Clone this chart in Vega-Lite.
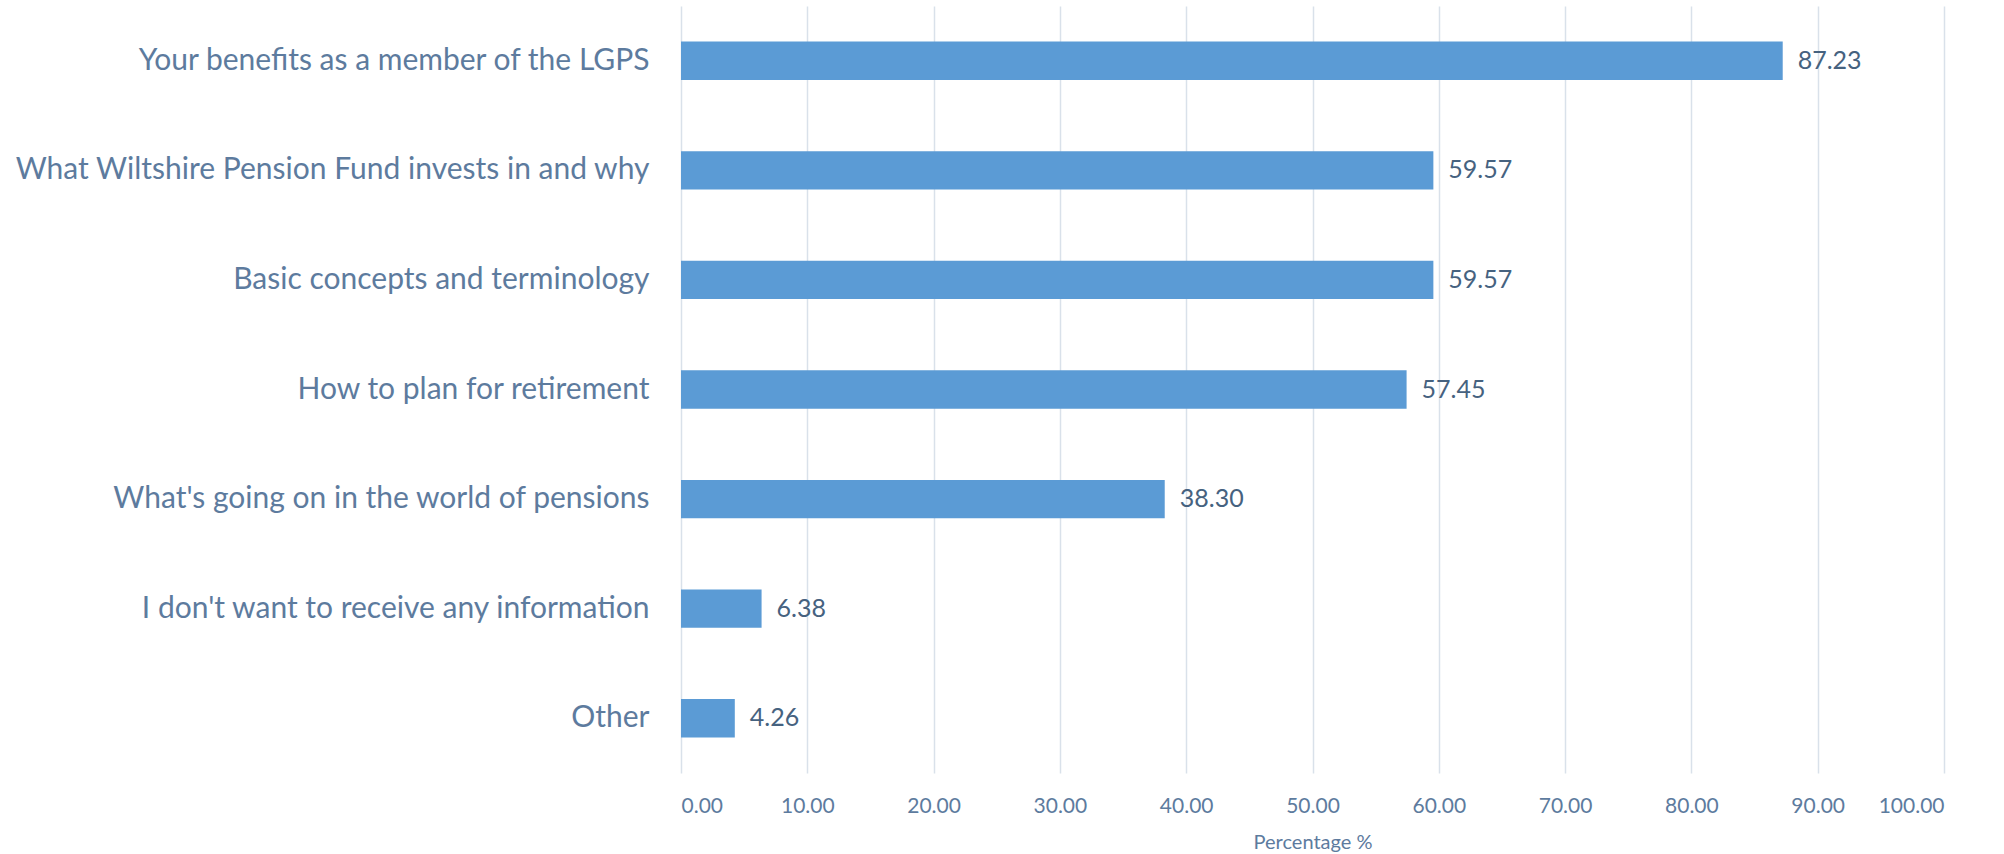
{
  "$schema": "https://vega.github.io/schema/vega-lite/v6.json",
  "width": 1263,
  "height": 767,
  "autosize": {"type": "none"},
  "padding": {"left": 681, "top": 6, "right": 60, "bottom": 81},
  "background": "white",
  "config": {"view": {"stroke": null}, "font": "Lato"},
  "data": {
    "values": [
      {"category": "Your benefits as a member of the LGPS", "pct": 87.23},
      {"category": "What Wiltshire Pension Fund invests in and why", "pct": 59.57},
      {"category": "Basic concepts and terminology", "pct": 59.57},
      {"category": "How to plan for retirement", "pct": 57.45},
      {"category": "What's going on in the world of pensions", "pct": 38.30},
      {"category": "I don't want to receive any information ", "pct": 6.38},
      {"category": "Other ", "pct": 4.26}
    ]
  },
  "encoding": {
    "y": {
      "field": "category",
      "type": "nominal",
      "sort": null,
      "scale": {"paddingInner": 0.65, "paddingOuter": 0.325},
      "axis": {
        "title": null,
        "domain": false,
        "ticks": false,
        "labelPadding": 32,
        "labelFontSize": 30,
        "labelColor": "#5d7b9e",
        "labelLimit": 0,
        "encode": {
          "labels": {
            "update": {
              "dx": [
                {"test": "indexof(datum.value, 'Other') >= 0 || indexof(datum.value, 'receive') >= 0", "value": -7},
                {"value": 0}
              ]
            }
          }
        }
      }
    },
    "x": {
      "field": "pct",
      "type": "quantitative",
      "scale": {"domain": [0, 100], "nice": false},
      "axis": {
        "title": "Percentage %",
        "titleFontSize": 20,
        "titleFontWeight": "normal",
        "titleColor": "#5d7b9e",
        "titlePadding": 16,
        "values": [0, 10, 20, 30, 40, 50, 60, 70, 80, 90, 100],
        "format": ".2f",
        "domain": false,
        "ticks": false,
        "labelPadding": 22,
        "labelFontSize": 21,
        "labelColor": "#5d7b9e",
        "grid": true,
        "gridColor": "#d9e1ea",
        "gridWidth": 1.5
      }
    }
  },
  "layer": [
    {"mark": {"type": "bar", "color": "#5b9bd5"}},
    {
      "mark": {"type": "text", "align": "left", "baseline": "middle", "dx": 15, "fontSize": 25, "color": "#46627f"},
      "encoding": {"text": {"field": "pct", "type": "quantitative", "format": ".2f"}}
    }
  ]
}
